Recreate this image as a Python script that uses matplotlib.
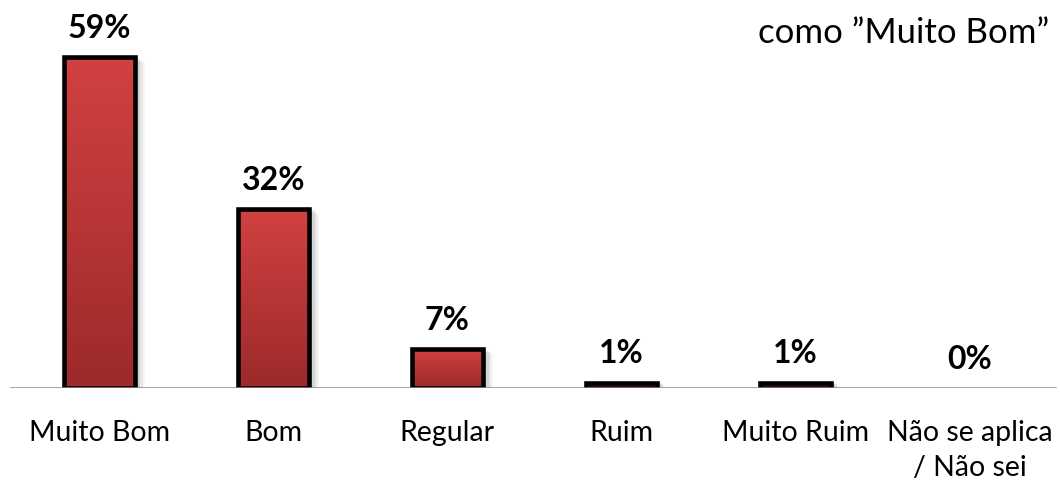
import numpy as np
import matplotlib
matplotlib.use("Agg")
import matplotlib.pyplot as plt
from matplotlib.patches import Rectangle

plt.rcParams['font.family'] = ['Lato', 'DejaVu Sans']

categorias = ['Muito Bom', 'Bom', 'Regular', 'Ruim', 'Muito Ruim', 'Não se aplica\n/ Não sei']
valores = [59, 32, 7, 1, 1, 0]
rotulos = ['59%', '32%', '7%', '1%', '1%', '0%']

fig = plt.figure(figsize=(10.6, 4.84), dpi=100)
ax = fig.add_axes([0.0, 0.198, 1.0, 0.802])

x = np.arange(len(categorias))
largura = 0.41
ax.set_xlim(-0.57, 5.52)
ax.set_ylim(0, 69.2)

# gradiente vermelho (mais claro em cima)
grad = np.linspace(0, 1, 256).reshape(-1, 1)
cmap = matplotlib.colors.LinearSegmentedColormap.from_list('barra', ['#9c2a2a', '#d24141'])

for xi, v in zip(x, valores):
    if v <= 0:
        continue
    # sombra à direita
    for k, a in enumerate([0.25, 0.18, 0.12, 0.07]):
        ax.add_patch(Rectangle((xi - largura / 2 + 0.02 + k * 0.012, 0), largura, v - 0.3 * k,
                               facecolor='#808080', edgecolor='none', alpha=a, zorder=1))
    rect = Rectangle((xi - largura / 2, 0), largura, v, facecolor='none',
                     edgecolor='black', linewidth=3.3, zorder=3)
    ax.add_patch(rect)
    img = ax.imshow(grad, cmap=cmap, aspect='auto', origin='lower',
                    extent=(xi - largura / 2, xi + largura / 2, 0, v), zorder=2)
    img.set_clip_path(rect)

for xi, v, r in zip(x, valores, rotulos):
    ax.text(xi, v + 5.1, r, ha='center', va='center', fontsize=23, fontweight='bold')

ax.axhline(0, color='#8a8a8a', linewidth=1.8, zorder=4, xmin=0.01, xmax=0.995)

ax.set_xticks(x)
ax.set_xticklabels(categorias, fontsize=20.5, linespacing=1.4)
ax.tick_params(axis='x', length=0, pad=23)
ax.set_yticks([])
for s in ax.spines.values():
    s.set_visible(False)

fig.text(0.99, 0.932, 'como \u201dMuito Bom\u201d', ha='right', va='center', fontsize=25)

fig.savefig('out.png', dpi=100, facecolor='white')
